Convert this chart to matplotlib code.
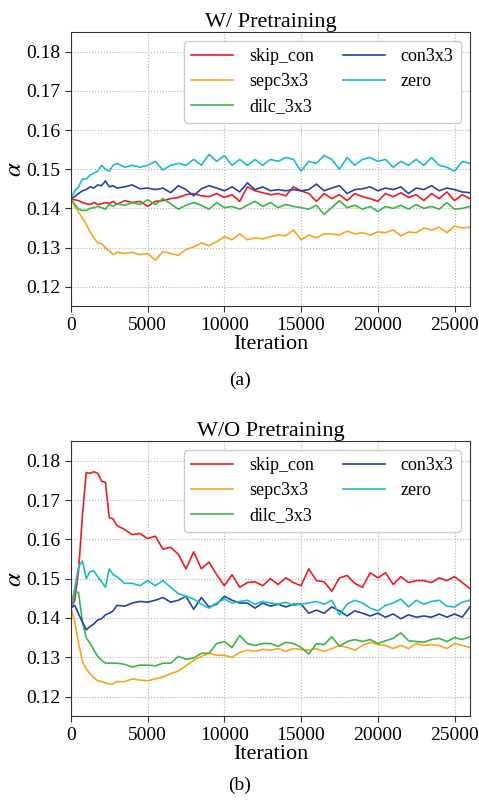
import matplotlib
matplotlib.use('Agg')
import matplotlib.pyplot as plt

plt.rcParams['font.family'] = ['Liberation Serif', 'DejaVu Serif']
plt.rcParams['mathtext.fontset'] = 'stix'

iters = [0, 250, 500, 750, 1000, 1250, 1500, 1750, 2000, 2250, 2500, 2750, 3000] + \
    list(range(3500, 26001, 500))

labels = ['skip_con', 'sepc3x3', 'dilc_3x3', 'con3x3', 'zero']
colors = ['#ec1c24', '#f8a51d', '#3cb54a', '#2146a4', '#19bec4']

# W/ Pretraining
skip_a = [0.1425, 0.1422, 0.142, 0.1415, 0.1412, 0.141, 0.1415, 0.141, 0.1412, 0.1415, 0.1412, 0.1418, 0.141,
          0.142, 0.1415, 0.1418, 0.1405, 0.1418, 0.142, 0.1425, 0.1428, 0.1435, 0.1438,
          0.1432, 0.143, 0.1438, 0.1428, 0.1435, 0.1418, 0.1455, 0.1445, 0.144, 0.1435,
          0.1438, 0.1432, 0.1455, 0.1445, 0.1438, 0.1418, 0.1438, 0.1425, 0.1435, 0.142,
          0.1438, 0.143, 0.1425, 0.1418, 0.1438, 0.143, 0.144, 0.1428, 0.1435, 0.142,
          0.1438, 0.1425, 0.1442, 0.142, 0.1435, 0.1425]
sepc_a = [0.1425, 0.1405, 0.139, 0.1375, 0.136, 0.134, 0.1325, 0.1312, 0.131, 0.130, 0.1292, 0.1282, 0.1288,
          0.1285, 0.1288, 0.1282, 0.1285, 0.1268, 0.129, 0.1285, 0.128, 0.1295, 0.1302,
          0.1312, 0.1305, 0.1315, 0.1328, 0.132, 0.1335, 0.132, 0.1325, 0.1322, 0.1328,
          0.1332, 0.133, 0.1345, 0.132, 0.1332, 0.1325, 0.1335, 0.1335, 0.1332, 0.1342,
          0.1335, 0.1338, 0.1332, 0.134, 0.1338, 0.1345, 0.133, 0.134, 0.1338, 0.135,
          0.1345, 0.1352, 0.1338, 0.1355, 0.135, 0.1352]
dilc_a = [0.1425, 0.141, 0.1398, 0.1395, 0.1395, 0.14, 0.1402, 0.1405, 0.1402, 0.1398, 0.141, 0.1405, 0.1412,
          0.1408, 0.1415, 0.141, 0.1422, 0.141, 0.1425, 0.1412, 0.1398, 0.1408, 0.1415,
          0.1408, 0.1398, 0.1415, 0.1402, 0.1405, 0.1398, 0.1408, 0.1418, 0.1405, 0.1415,
          0.1402, 0.141, 0.1405, 0.1402, 0.1398, 0.1408, 0.1385, 0.1402, 0.142, 0.1402,
          0.1408, 0.1398, 0.1405, 0.1392, 0.1405, 0.14, 0.1408, 0.1398, 0.141, 0.14,
          0.1405, 0.1398, 0.1415, 0.1398, 0.14, 0.1405]
con_a = [0.1425, 0.143, 0.1438, 0.1445, 0.1448, 0.1455, 0.1452, 0.146, 0.1458, 0.147, 0.1455, 0.1458, 0.1452,
         0.1455, 0.146, 0.145, 0.1452, 0.1448, 0.1452, 0.144, 0.1458, 0.1448, 0.1432,
         0.145, 0.1458, 0.1452, 0.1445, 0.1455, 0.1442, 0.1465, 0.1448, 0.1455, 0.1445,
         0.1448, 0.1445, 0.1448, 0.1445, 0.1448, 0.1462, 0.1445, 0.1452, 0.1458, 0.1438,
         0.1448, 0.145, 0.1455, 0.1445, 0.1452, 0.1448, 0.1455, 0.1438, 0.1452, 0.1448,
         0.1458, 0.1445, 0.1452, 0.1448, 0.1442, 0.144]
zero_a = [0.1425, 0.1445, 0.1455, 0.1475, 0.1475, 0.1485, 0.149, 0.1495, 0.151, 0.150, 0.1495, 0.151, 0.1515,
          0.1505, 0.151, 0.1505, 0.151, 0.152, 0.1498, 0.151, 0.1515, 0.151, 0.1525,
          0.151, 0.1538, 0.152, 0.1535, 0.151, 0.1525, 0.151, 0.1525, 0.151, 0.1525,
          0.152, 0.153, 0.1525, 0.1495, 0.152, 0.1515, 0.1535, 0.1525, 0.150, 0.153,
          0.151, 0.1525, 0.153, 0.152, 0.1525, 0.1505, 0.152, 0.151, 0.1525, 0.151,
          0.153, 0.151, 0.1505, 0.1495, 0.152, 0.1515]

# W/O Pretraining
skip_b = [0.1425, 0.1445, 0.152, 0.166, 0.177, 0.1768, 0.1772, 0.1768, 0.1748, 0.1745, 0.1655, 0.1652, 0.1635,
          0.1625, 0.1612, 0.1615, 0.1602, 0.1608, 0.1575, 0.158, 0.1562, 0.1525, 0.1568,
          0.1525, 0.1542, 0.151, 0.1482, 0.151, 0.1478, 0.149, 0.1492, 0.1482, 0.150,
          0.1485, 0.1502, 0.149, 0.1482, 0.1525, 0.1495, 0.1492, 0.1468, 0.1502, 0.1508,
          0.1488, 0.1478, 0.1515, 0.1502, 0.1515, 0.1485, 0.1505, 0.149, 0.1495, 0.1495,
          0.149, 0.1502, 0.1495, 0.1505, 0.149, 0.1475]
sepc_b = [0.1425, 0.139, 0.1335, 0.129, 0.127, 0.1258, 0.1248, 0.124, 0.1238, 0.1235, 0.1232, 0.1232, 0.1238,
          0.1238, 0.1245, 0.1242, 0.124, 0.1245, 0.125, 0.1258, 0.1265, 0.1278, 0.1292,
          0.1302, 0.131, 0.1305, 0.1305, 0.130, 0.1312, 0.1318, 0.1315, 0.132, 0.1318,
          0.1322, 0.1315, 0.1322, 0.132, 0.1318, 0.1322, 0.1315, 0.1322, 0.133, 0.1325,
          0.1318, 0.133, 0.1338, 0.1332, 0.133, 0.1322, 0.133, 0.1322, 0.1335, 0.133,
          0.1332, 0.133, 0.1322, 0.1335, 0.133, 0.1325]
dilc_b = [0.1425, 0.1465, 0.1465, 0.139, 0.135, 0.1335, 0.1318, 0.1302, 0.1292, 0.1285, 0.1285, 0.1285, 0.1285,
          0.1282, 0.1275, 0.128, 0.128, 0.1278, 0.1285, 0.1285, 0.1302, 0.1295, 0.1298,
          0.131, 0.131, 0.1335, 0.134, 0.1325, 0.1355, 0.1335, 0.133, 0.1335, 0.1335,
          0.1328, 0.1338, 0.1335, 0.1325, 0.1308, 0.1335, 0.1332, 0.1352, 0.1328, 0.134,
          0.1345, 0.134, 0.1345, 0.1335, 0.1342, 0.1348, 0.1362, 0.1342, 0.134, 0.1338,
          0.1345, 0.1348, 0.134, 0.135, 0.1345, 0.1352]
con_b = [0.1425, 0.1432, 0.141, 0.139, 0.137, 0.1378, 0.1385, 0.1395, 0.1398, 0.1408, 0.1412, 0.1418, 0.1432,
         0.143, 0.1438, 0.1442, 0.144, 0.1445, 0.1452, 0.144, 0.1445, 0.1455, 0.1422,
         0.1452, 0.1428, 0.1435, 0.1455, 0.1445, 0.1438, 0.1438, 0.1425, 0.1438, 0.143,
         0.1435, 0.1428, 0.1435, 0.1435, 0.1412, 0.142, 0.1412, 0.1428, 0.1418, 0.1405,
         0.1418, 0.1412, 0.1405, 0.1412, 0.1402, 0.141, 0.1398, 0.1408, 0.1402, 0.1405,
         0.1402, 0.141, 0.1402, 0.141, 0.1402, 0.1428]
zero_b = [0.1425, 0.1475, 0.153, 0.1545, 0.150, 0.1518, 0.152, 0.1505, 0.1492, 0.1478, 0.1525, 0.151, 0.1505,
          0.1488, 0.1488, 0.1482, 0.1495, 0.1482, 0.1495, 0.1478, 0.1462, 0.1455, 0.1448,
          0.1435, 0.1425, 0.1438, 0.1448, 0.1438, 0.1442, 0.1445, 0.1435, 0.1442, 0.1438,
          0.1435, 0.144, 0.1432, 0.1435, 0.1438, 0.1442, 0.1435, 0.1445, 0.1408, 0.1435,
          0.1445, 0.1438, 0.1425, 0.1418, 0.1432, 0.1438, 0.1448, 0.1428, 0.1445, 0.1435,
          0.1442, 0.1445, 0.143, 0.1428, 0.144, 0.1445]

panels = [
    ('W/ Pretraining', '(a)', [skip_a, sepc_a, dilc_a, con_a, zero_a]),
    ('W/O Pretraining', '(b)', [skip_b, sepc_b, dilc_b, con_b, zero_b]),
]

fig = plt.figure(figsize=(4.79, 8.02), dpi=100)
boxes = [[0.148, 0.618, 0.833, 0.342], [0.148, 0.107, 0.833, 0.343]]
caption_y = [0.526, 0.021]

for (title, cap, series), box, cy in zip(panels, boxes, caption_y):
    ax = fig.add_axes(box)
    for ys, lab, c in zip(series, labels, colors):
        ax.plot(iters, ys, color=c, lw=1.2, label=lab)
    ax.set_xlim(0, 26000)
    ax.set_ylim(0.115, 0.185)
    ax.set_xticks([0, 5000, 10000, 15000, 20000, 25000])
    ax.set_yticks([0.12, 0.13, 0.14, 0.15, 0.16, 0.17, 0.18])
    ax.grid(True, linestyle=':', color='#b0b0b0', lw=0.8)
    ax.tick_params(labelsize=14, length=4, color='#333333')
    for s in ax.spines.values():
        s.set_color('#333333')
    ax.set_title(title, fontsize=16, pad=4)
    ax.set_xlabel('Iteration', fontsize=16, labelpad=1)
    ax.set_ylabel(r'$\alpha$', fontsize=18, labelpad=0)
    ax.legend(ncol=2, loc='upper right', fontsize=13, handlelength=2.3,
              handletextpad=0.9, columnspacing=1.6, labelspacing=0.45,
              edgecolor='#cccccc', framealpha=1)
    fig.text(0.5, cy, cap, ha='center', va='center', fontsize=14)

fig.savefig('out.png')
